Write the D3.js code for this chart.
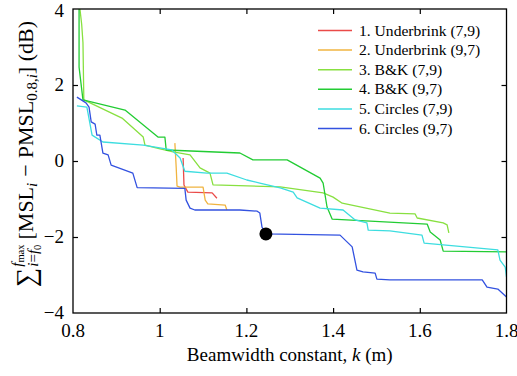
<!DOCTYPE html>
<html><head><meta charset="utf-8">
<script src="https://cdn.jsdelivr.net/npm/d3@7"></script>
<style>
body{margin:0;background:#fff}
svg{display:block;font-family:"Liberation Serif","Times New Roman",serif}
</style></head><body>
<svg id="chart" width="517" height="376"></svg>
<script>
// Cumulative mainlobe/sidelobe level difference versus beamwidth constant k
const xTicks = [0.8, 1.0, 1.2, 1.4, 1.6, 1.8];
const xTickLabels = ["0.8", "1", "1.2", "1.4", "1.6", "1.8"];
const yTicks = [-4, -2, 0, 2, 4];
const yTickLabels = ["\u22124", "\u22122", "0", "2", "4"];

const seriesNames = ["1. Underbrink (7,9)", "2. Underbrink (9,7)", "3. B&K (7,9)",
                     "4. B&K (9,7)", "5. Circles (7,9)", "6. Circles (9,7)"];

// [k (m), summed level difference (dB)]
const underbrink79 = [[1.054,0.08],[1.056,-0.63],[1.065,-0.82],[1.121,-0.84],[1.132,-0.98]];
const underbrink97 = [[1.035,0.47],[1.038,-0.16],[1.040,-0.66],[1.047,-0.69],[1.100,-0.69],
  [1.105,-1.03],[1.111,-1.13],[1.151,-1.16],[1.155,-1.29]];
const bk79 = [[0.816,4.0],[0.820,3.6],[0.823,3.11],[0.825,1.61],[0.913,1.13],[0.962,0.63],
  [0.966,0.42],[1.001,0.32],[1.031,0.24],[1.070,0.16],[1.093,-0.18],[1.116,-0.32],
  [1.123,-0.63],[1.278,-0.68],[1.377,-0.84],[1.400,-0.95],[1.421,-1.11],[1.531,-1.37],
  [1.589,-1.39],[1.594,-1.50],[1.654,-1.63],[1.663,-1.68],[1.667,-1.89]];
const bk97 = [[0.814,4.0],[0.814,2.47],[0.823,1.61],[0.920,1.34],[0.996,0.63],[1.012,0.63],
  [1.015,0.29],[1.185,0.21],[1.215,0.03],[1.294,0.03],[1.370,-0.45],[1.377,-0.58],
  [1.386,-1.21],[1.398,-1.53],[1.617,-1.66],[1.624,-1.87],[1.647,-2.08],[1.654,-2.37],
  [1.8,-2.39]];
const circles79 = [[0.809,1.45],[0.832,1.42],[0.844,0.68],[0.869,0.50],[0.962,0.42],
  [1.028,0.29],[1.047,0.08],[1.058,-0.27],[1.109,-0.32],[1.155,-0.32],[1.201,-0.50],
  [1.231,-0.58],[1.278,-0.71],[1.308,-0.82],[1.317,-0.97],[1.370,-1.24],[1.423,-1.29],
  [1.451,-1.55],[1.478,-1.63],[1.481,-1.82],[1.531,-1.84],[1.605,-1.95],[1.610,-2.16],
  [1.780,-2.34],[1.785,-2.61],[1.797,-2.79],[1.8,-3.05]];
const circles97 = [[0.809,1.68],[0.830,1.53],[0.837,1.42],[0.842,1.03],[0.851,0.97],
  [0.855,0.68],[0.862,0.68],[0.869,0.21],[0.881,0.16],[0.888,-0.11],[0.938,-0.32],
  [0.948,-0.70],[1.058,-0.72],[1.061,-1.03],[1.070,-1.24],[1.081,-1.29],[1.185,-1.29],
  [1.225,-1.32],[1.231,-1.37],[1.236,-1.74],[1.245,-1.92],[1.416,-1.95],[1.444,-2.26],
  [1.455,-2.87],[1.469,-2.92],[1.497,-2.95],[1.501,-3.11],[1.531,-3.13],[1.744,-3.13],
  [1.755,-3.32],[1.780,-3.37],[1.8,-3.58]];
const selectedPoint = [1.245, -1.92];

const seriesData = [underbrink79, underbrink97, bk79, bk97, circles79, circles97];
const seriesColors = ["#ea4a48", "#f0b440", "#88e040", "#22cc33", "#3ddde0", "#3352e0"];

const svg = d3.select("#chart");
const m = {left: 73, right: 10.5, top: 9, bottom: 63};
const W = 517, H = 376;
const x = d3.scaleLinear().domain([0.8, 1.8]).range([m.left, W - m.right]);
const y = d3.scaleLinear().domain([-4, 4]).range([H - m.bottom, m.top]);

svg.append("defs").append("clipPath").attr("id", "plotclip")
  .append("rect").attr("x", x(0.8)).attr("y", y(4))
  .attr("width", x(1.8) - x(0.8)).attr("height", y(-4) - y(4));

// curves
const line = d3.line().x(d => x(d[0])).y(d => y(d[1]));
const curves = svg.append("g").attr("clip-path", "url(#plotclip)");
seriesData.forEach((s, i) => {
  curves.append("path").attr("d", line(s)).attr("fill", "none")
    .attr("stroke", seriesColors[i]).attr("stroke-width", 1.3)
    .attr("stroke-linejoin", "round");
});

// highlighted point
svg.append("circle").attr("cx", x(selectedPoint[0])).attr("cy", y(selectedPoint[1]))
  .attr("r", 6.5).attr("fill", "#000");

// axes with inward ticks on all four sides
const tickLen = 5;
const innerX = xTicks.slice(1, -1), innerY = yTicks.slice(1, -1);
svg.append("g").attr("transform", `translate(0,${y(-4)})`)
  .call(d3.axisBottom(x).tickValues(innerX).tickSize(-tickLen).tickFormat(""));
svg.append("g").attr("transform", `translate(0,${y(4)})`)
  .call(d3.axisTop(x).tickValues(innerX).tickSize(-tickLen).tickFormat(""));
svg.append("g").attr("transform", `translate(${x(0.8)},0)`)
  .call(d3.axisLeft(y).tickValues(innerY).tickSize(-tickLen).tickFormat(""));
svg.append("g").attr("transform", `translate(${x(1.8)},0)`)
  .call(d3.axisRight(y).tickValues(innerY).tickSize(-tickLen).tickFormat(""));
svg.selectAll(".domain").remove();
svg.selectAll(".tick line").attr("stroke", "#000").attr("stroke-width", 1.2);

svg.append("rect").attr("x", x(0.8)).attr("y", y(4))
  .attr("width", x(1.8) - x(0.8)).attr("height", y(-4) - y(4))
  .attr("fill", "none").attr("stroke", "#000").attr("stroke-width", 1.3);

// tick labels
svg.append("g").selectAll("text").data(xTicks).join("text")
  .attr("x", d => x(d)).attr("y", y(-4) + 24).attr("text-anchor", "middle")
  .attr("font-size", 19).text((d, i) => xTickLabels[i]);
svg.append("g").selectAll("text").data(yTicks).join("text")
  .attr("x", x(0.8) - 9).attr("y", d => Math.max(y(d) + 6, 17)).attr("text-anchor", "end")
  .attr("font-size", 19).text((d, i) => yTickLabels[i]);

// x axis title
const xt = svg.append("text").attr("x", (x(0.8) + x(1.8)) / 2).attr("y", 361)
  .attr("text-anchor", "middle").attr("font-size", 19);
xt.append("tspan").text("Beamwidth constant, ");
xt.append("tspan").attr("font-style", "italic").text("k");
xt.append("tspan").text(" (m)");

// y axis title, laid out piece by piece along the rotated baseline
const yt = svg.append("g").attr("transform", "translate(33,287) rotate(-90)");
let cursor = 0;
function piece(str, size, shift, italic) {
  const t = yt.append("text").attr("x", cursor).attr("y", shift)
    .attr("font-size", size).attr("font-style", italic ? "italic" : "normal").text(str);
  return t.node().getComputedTextLength();
}
function advance(str, size, shift, italic) { cursor += piece(str, size, shift, italic); }
advance("\u2211", 27, 2, false);
const stackStart = cursor + 1;
cursor = stackStart;
let supW = piece("f", 15, -11, true); cursor += supW;
supW += piece("max", 10.5, -9, false);
cursor = stackStart;
let subW = piece("i", 15, 5, true); cursor += subW;
let w = piece("=", 15, 5, false); subW += w; cursor += w;
w = piece("f", 15, 5, true); subW += w; cursor += w;
subW += piece("0", 10.5, 8, false);
cursor = stackStart + Math.max(supW, subW) + 5;
advance("[MSL", 22, 0, false);
advance("i", 15, 4, true);
cursor += 6;
advance("\u2212", 22, 0, false);
cursor += 6;
advance("PMSL", 22, 0, false);
advance("0.8,", 15, 4, false);
advance("i", 15, 4, true);
advance("] (dB)", 22, 0, false);

// legend
const lg = svg.append("g");
seriesNames.forEach((n, i) => {
  const cy = 30.5 + i * 19.6;
  lg.append("line").attr("x1", 318).attr("x2", 352).attr("y1", cy).attr("y2", cy)
    .attr("stroke", seriesColors[i]).attr("stroke-width", 1.5);
  lg.append("text").attr("x", 359).attr("y", cy + 5).attr("font-size", 15.6).text(n);
});
</script>
</body></html>
